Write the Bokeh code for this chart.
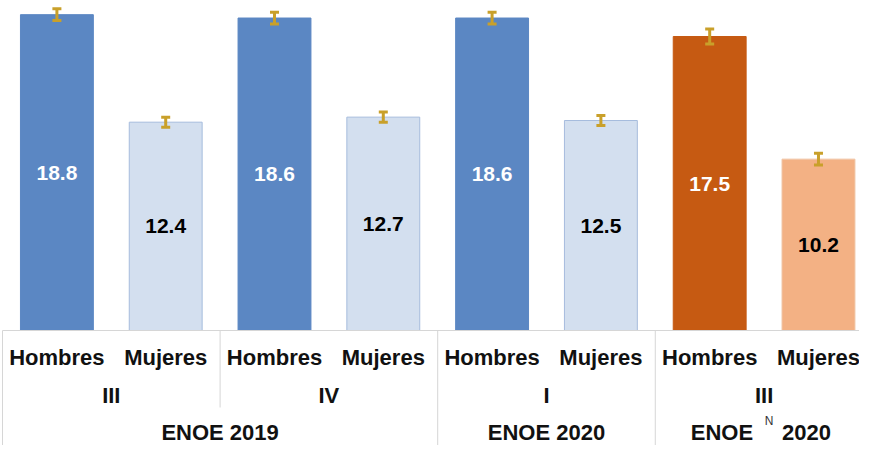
from bokeh.plotting import figure
from bokeh.models import ColumnDataSource, Whisker, Range1d, TeeHead
from bokeh.core.properties import value
from bokeh.embed import file_html
from bokeh.resources import INLINE

# ---- data ----
sexes = ["Hombres", "Mujeres", "Hombres", "Mujeres", "Hombres", "Mujeres", "Hombres", "Mujeres"]
quarters = ["III", "IV", "I", "III"]
quarter_spans = [(0, 1), (2, 3), (4, 5), (6, 7)]
surveys = ["ENOE", "ENOE", "ENOE"]
survey_years = ["2019", "2020", "2020"]
survey_sup = ["", "", "N"]
survey_spans = [(0, 3), (4, 5), (6, 7)]
values = [18.8, 12.4, 18.6, 12.7, 18.6, 12.5, 17.5, 10.2]
errors = [0.35, 0.3, 0.35, 0.3, 0.35, 0.3, 0.45, 0.35]

# ---- styles ----
fills = ["#5B87C3", "#D3DFEF", "#5B87C3", "#D3DFEF", "#5B87C3", "#D3DFEF", "#C65A12", "#F3B184"]
lines = ["#5B87C3", "#A6BCDD", "#5B87C3", "#A6BCDD", "#5B87C3", "#A6BCDD", "#C65A12", "#F0C4A4"]
tcolors = ["white", "black", "white", "black", "white", "black", "white", "black"]
gold = "#C9A02A"
sep = "#D6D6D6"
FONT = value("Liberation Sans")

PX = 16.8  # pixels per unit in y

xs = list(range(len(values)))
src = ColumnDataSource(dict(
    x=xs, top=values, fill=fills, line=lines,
    upper=[v + e for v, e in zip(values, errors)],
    lower=[v - e for v, e in zip(values, errors)],
    mid=[v / 2 for v in values],
    label=[f"{v:.1f}" for v in values],
    tcolor=tcolors,
))

y0 = -(445 - 330) / PX
p = figure(width=859, height=445,
           x_range=Range1d(-0.5184, 7.377), y_range=Range1d(y0, 330 / PX),
           output_backend="svg", toolbar_location=None, min_border=0)
p.axis.visible = False
p.grid.visible = False
p.outline_line_color = None

p.vbar(x="x", top="top", bottom=0, width=0.67, fill_color="fill", line_color="line",
       line_width=1, source=src)

w = Whisker(base="x", upper="upper", lower="lower", source=src, dimension="height",
            line_color=gold, line_width=3,
            upper_head=TeeHead(size=9, line_color=gold, line_width=3),
            lower_head=TeeHead(size=9, line_color=gold, line_width=3))
w.level = "annotation"
p.add_layout(w)

p.text(x="x", y="mid", text="label", text_color="tcolor", text_align="center",
       text_baseline="middle", text_font=FONT, text_font_style="bold",
       text_font_size="21px", source=src)

# ---- table-like category axis ----
n = len(values)
p.segment(x0=[-0.5], y0=[0], x1=[n], y1=[0], line_color=sep, line_width=1)
sb = sorted(set([a - 0.5 for a, b in survey_spans] + [b + 0.5 for a, b in survey_spans]))
p.segment(x0=sb, y0=[0] * len(sb), x1=sb, y1=[y0] * len(sb), line_color=sep, line_width=1)
qb = sorted(set([a - 0.5 for a, b in quarter_spans] + [b + 0.5 for a, b in quarter_spans]) - set(sb))
p.segment(x0=qb, y0=[0] * len(qb), x1=qb, y1=[-77 / PX] * len(qb), line_color=sep, line_width=1)

lab_color = "#111111"
p.text(x=xs, y=[-27 / PX] * n, text=sexes, text_align="center", text_baseline="middle",
       text_font=FONT, text_font_style="bold", text_font_size="22px", text_color=lab_color)
qx = [(a + b) / 2 for a, b in quarter_spans]
p.text(x=qx, y=[-65 / PX] * len(qx), text=quarters, text_align="center", text_baseline="middle",
       text_font=FONT, text_font_style="bold", text_font_size="22px", text_color=lab_color)

for (a, b), s, yr, sup in zip(survey_spans, surveys, survey_years, survey_sup):
    cx = (a + b) / 2
    yy = -102 / PX
    if sup:
        p.text(x=[cx], y=[yy], text=[s], text_align="right", text_baseline="middle", x_offset=-11,
               text_font=FONT, text_font_style="bold", text_font_size="22px", text_color=lab_color)
        p.text(x=[cx], y=[yy], text=[sup], text_align="center", text_baseline="middle", x_offset=5,
               y_offset=-12, text_font=FONT, text_font_size="12px", text_color="#333333")
        p.text(x=[cx], y=[yy], text=[yr], text_align="left", text_baseline="middle", x_offset=18,
               text_font=FONT, text_font_style="bold", text_font_size="22px", text_color=lab_color)
    else:
        p.text(x=[cx], y=[yy], text=[s + " " + yr], text_align="center", text_baseline="middle",
               text_font=FONT, text_font_style="bold", text_font_size="22px", text_color=lab_color)

open("out.html", "w").write(file_html(p, INLINE))
